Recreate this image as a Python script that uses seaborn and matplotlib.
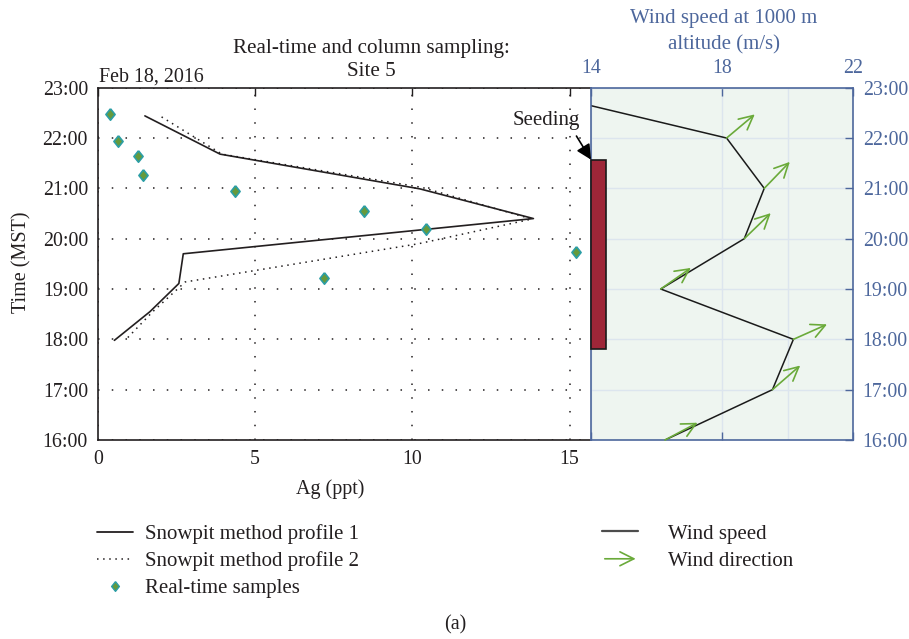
import numpy as np
import matplotlib
matplotlib.use("Agg")
import matplotlib.pyplot as plt
import seaborn as sns
from matplotlib.lines import Line2D
from matplotlib.patches import FancyArrowPatch
from matplotlib.legend_handler import HandlerBase

# --- Snowpit profiles: Ag concentration (ppt) against time of day (hours, MST)
profile1_ag = [1.50, 3.89, 10.24, 13.85, 2.72, 2.58, 1.66, 0.53]
profile1_time = [22.44, 21.68, 20.99, 20.40, 19.70, 19.11, 18.55, 17.98]
profile2_ag = [2.03, 3.95, 10.30, 13.80, 10.20, 2.78, 1.75, 0.87]
profile2_time = [22.42, 21.68, 21.02, 20.39, 19.90, 19.14, 18.55, 17.98]

# --- Real-time samples
sample_ag = [0.39, 0.65, 1.27, 1.45, 4.37, 8.47, 10.44, 15.21, 7.19]
sample_time = [22.47, 21.95, 21.64, 21.27, 20.94, 20.56, 20.19, 19.74, 19.22]

# --- Hourly wind at 1000 m: speed (m/s) and arrow direction (deg, counter-clockwise from east)
wind_hour = [23, 22, 21, 20, 19, 18, 17, 16]
wind_speed = [11.7, 18.14, 19.29, 18.68, 16.13, 20.18, 19.54, 16.26]
wind_dir_deg = [np.nan, 40, 46, 44, 35, 24, 41, 28]

# --- Seeding period (hours)
seeding_start = 17.80
seeding_end = 21.57

hour_ticks = list(range(16, 24))
hour_labels = [f"{h}:00" for h in hour_ticks]
ag_ticks = [0, 5, 10, 15]
speed_ticks = [14, 18, 22]

TEXT = "#231f20"
BLUE = "#4d679c"
GREEN = "#6aaa3a"
PANEL = "#eef5f0"

sns.set_theme(style="white")
plt.rcParams["font.family"] = ["Liberation Serif", "DejaVu Serif"]
plt.rcParams["text.color"] = TEXT
plt.rcParams["axes.labelcolor"] = TEXT

fig = plt.figure(figsize=(9.09, 6.39), dpi=100)
W, H = 909, 639

def frac_box(x0, y0, x1, y1):
    return [x0 / W, 1 - y1 / H, (x1 - x0) / W, (y1 - y0) / H]

ax = fig.add_axes(frac_box(97.7, 87.7, 591, 440))
axr = fig.add_axes(frac_box(591, 87.7, 853, 440))

# ---------------- left panel: Ag profiles ----------------
sns.lineplot(x=profile1_ag, y=profile1_time, sort=False, estimator=None,
             color=TEXT, lw=1.2, ax=ax)
sns.lineplot(x=profile2_ag, y=profile2_time, sort=False, estimator=None,
             color=TEXT, lw=1.1, linestyle=(0, (1, 3)), ax=ax)
diamond = [(0, 1), (0.8, 0), (0, -1), (-0.8, 0), (0, 1)]
sns.scatterplot(x=sample_ag, y=sample_time, marker=diamond, s=68,
                color="#669a3c", edgecolor="#2b9ea6", linewidth=1.2,
                ax=ax, zorder=4)

ax.set_xlim(0, 15.68)
ax.set_ylim(16, 23)
ax.set_xticks(ag_ticks)
ax.set_yticks(hour_ticks)
ax.set_yticklabels(hour_labels)
ax.tick_params(direction="in", length=6, width=1, top=True, right=False,
               labelsize=14.3, pad=7, colors=TEXT)
ax.grid(True, color=TEXT, linestyle=(0, (1, 8)), linewidth=1.1)
for side in ["left", "bottom", "top"]:
    ax.spines[side].set_color(TEXT)
    ax.spines[side].set_linewidth(1.2)
ax.spines["right"].set_visible(False)

# ---------------- right panel: wind ----------------
axr.set_facecolor(PANEL)
axr.set_xlim(14, 22)
axr.set_ylim(16, 23)
axr.set_xticks(speed_ticks)
axr.set_xticks([20], minor=True)
axr.set_yticks(hour_ticks)
axr.set_yticklabels(hour_labels)
axr.tick_params(which="major", direction="in", length=6, width=1,
                top=True, bottom=True, labeltop=True, labelbottom=False,
                left=False, right=True, labelleft=False, labelright=True,
                labelsize=14.3, pad=7, colors=BLUE)
axr.tick_params(which="minor", length=0)
axr.grid(True, which="both", color="#dce5ee", linewidth=1.0)
for side in axr.spines.values():
    side.set_color(BLUE)
    side.set_linewidth(1.2)

sns.lineplot(x=wind_speed, y=wind_hour, sort=False, estimator=None,
             color="#1a1a1a", lw=1.1, ax=axr)

arrow_len = 26.5  # points
for s, h, ang in zip(wind_speed, wind_hour, wind_dir_deg):
    if np.isnan(ang):
        continue
    a = np.deg2rad(ang)
    axr.annotate("", xy=(s, h),
                 xytext=(arrow_len * np.cos(a), arrow_len * np.sin(a)),
                 textcoords="offset points", annotation_clip=False,
                 arrowprops=dict(arrowstyle="<-,head_length=0.5,head_width=0.25",
                                 color=GREEN, lw=1.2, shrinkA=0, shrinkB=0,
                                 mutation_scale=20))

axr.bar(14, seeding_end - seeding_start, bottom=seeding_start, width=0.47,
        align="edge", color="#9e2638", edgecolor="#1a1a1a", linewidth=1.2,
        zorder=3, clip_on=False)

axr.annotate("Seeding", xy=(14.0, seeding_end), xytext=(14.25, 22.34),
             textcoords=ax.transData, ha="center", va="center", fontsize=15,
             color=TEXT, annotation_clip=False,
             arrowprops=dict(arrowstyle="-|>,head_length=0.6,head_width=0.3",
                             color="black", lw=1.2, shrinkA=2, shrinkB=0,
                             relpos=(0.9, 0.0), mutation_scale=15))

# ---------------- titles and labels ----------------
fig.text(371 / W, 1 - 49 / H, "Real-time and column sampling:",
         ha="center", va="center", fontsize=15.2, color=TEXT)
fig.text(371 / W, 1 - 71 / H, "Site 5", ha="center", va="center",
         fontsize=15.2, color=TEXT)
fig.text(99 / W, 1 - 77 / H, "Feb 18, 2016", ha="left", va="center",
         fontsize=14.4, color=TEXT)
fig.text(724 / W, 1 - 19 / H, "Wind speed at 1000 m", ha="center",
         va="center", fontsize=15, color=BLUE)
fig.text(724 / W, 1 - 45 / H, "altitude (m/s)", ha="center", va="center",
         fontsize=15, color=BLUE)
fig.text(22 / W, 1 - 262 / H, "Time (MST)", rotation=90, ha="center",
         va="center", fontsize=14.5, color=TEXT)
fig.text(330 / W, 1 - 489 / H, "Ag (ppt)", ha="center", va="center",
         fontsize=14.5, color=TEXT)
fig.text(455 / W, 1 - 625 / H, "(a)", ha="center", va="center",
         fontsize=14.5, color=TEXT)

# ---------------- legends ----------------
h_p1 = Line2D([], [], color=TEXT, lw=1.3)
h_p2 = Line2D([], [], color=TEXT, lw=1.1, linestyle=(0, (1, 3)))
h_rt = Line2D([], [], linestyle="none", marker=diamond, markersize=7,
              markerfacecolor="#669a3c", markeredgecolor="#2b9ea6",
              markeredgewidth=1.0)
fig.legend([h_p1, h_p2, h_rt],
           ["Snowpit method profile 1", "Snowpit method profile 2",
            "Real-time samples"],
           loc="upper left", bbox_to_anchor=(97 / W, 1 - 524 / H),
           frameon=False, fontsize=15, handlelength=1.75, handletextpad=0.55,
           labelspacing=0.35, borderpad=0, borderaxespad=0, labelcolor=TEXT)


class ArrowHandler(HandlerBase):
    def create_artists(self, legend, orig_handle, xdescent, ydescent,
                       width, height, fontsize, trans):
        y = height / 2 - ydescent
        arr = FancyArrowPatch((-xdescent, y), (-xdescent + width, y),
                              arrowstyle="->,head_length=0.5,head_width=0.25",
                              mutation_scale=20, color=GREEN, lw=1.2,
                              transform=trans)
        return [arr]


h_ws = Line2D([], [], color="#4d4d4d", lw=1.6)
h_wd = FancyArrowPatch((0, 0), (1, 0))
fig.legend([h_ws, h_wd], ["Wind speed", "Wind direction"],
           handler_map={FancyArrowPatch: ArrowHandler()},
           loc="upper left", bbox_to_anchor=(602 / W, 1 - 524 / H),
           frameon=False, fontsize=15, handlelength=1.75, handletextpad=1.4,
           labelspacing=0.38, borderpad=0, borderaxespad=0, labelcolor=TEXT)

fig.savefig("out.png", dpi=100)
